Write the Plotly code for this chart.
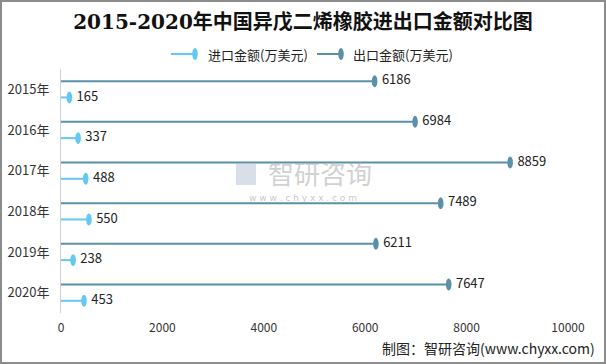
import plotly.graph_objects as go

years = ["2015年", "2016年", "2017年", "2018年", "2019年", "2020年"]
import_vals = [165, 337, 488, 550, 238, 453]
export_vals = [6186, 6984, 8859, 7489, 6211, 7647]
x_ticks = [0, 2000, 4000, 6000, 8000, 10000]

IMP_COLOR = "#63C9F2"
EXP_COLOR = "#5B90AA"
CJK = "Noto Sans CJK SC"

W, H = 606, 364
ML, MR, MT, MB = 61, 38, 69, 51
PW, PH = W - ML - MR, H - MT - MB
XMAX = 10000
OFF = 0.2  # series offset within a category band

fig = go.Figure()

def add_series(vals, sign, color):
    xs, ys = [], []
    for i, v in enumerate(vals):
        xs += [0, v, None]
        ys += [i + sign * OFF, i + sign * OFF, None]
    fig.add_trace(go.Scatter(x=xs, y=ys, mode="lines", line=dict(color=color, width=2),
                             showlegend=False, hoverinfo="skip"))
    fig.add_trace(go.Scatter(x=vals, y=[i + sign * OFF for i in range(len(vals))],
                             mode="markers+text", text=[str(v) for v in vals],
                             textposition="middle right",
                             marker=dict(size=10, color="rgba(0,0,0,0)"),
                             textfont=dict(family=CJK, size=13, color="#222"),
                             showlegend=False, hoverinfo="skip"))
    dx = 2.8 * XMAX / PW
    dy = 6.0 / (PH / len(vals))
    for i, v in enumerate(vals):
        yc = i + sign * OFF
        fig.add_shape(type="circle", xref="x", yref="y",
                      x0=v - dx, x1=v + dx, y0=yc - dy, y1=yc + dy,
                      fillcolor=color, line=dict(width=0), layer="above")

add_series(export_vals, -1, EXP_COLOR)
add_series(import_vals, +1, IMP_COLOR)

def px_x(p):
    return (p - ML) / PW

def px_y(p):
    return (H - MB - p) / PH

# custom legend
legend_items = [("进口金额(万美元)", IMP_COLOR, 171, 195, 206),
                ("出口金额(万美元)", EXP_COLOR, 317, 341, 351)]
ly = 54
for name, color, lx0, lx1, tx in legend_items:
    fig.add_shape(type="line", xref="paper", yref="paper",
                  x0=px_x(lx0), x1=px_x(lx1), y0=px_y(ly), y1=px_y(ly),
                  line=dict(color=color, width=2))
    fig.add_shape(type="circle", xref="paper", yref="paper",
                  x0=px_x(lx1 - 2.8), x1=px_x(lx1 + 2.8), y0=px_y(ly + 6), y1=px_y(ly - 6),
                  fillcolor=color, line=dict(width=0))
    fig.add_annotation(text=name, xref="paper", yref="paper", x=px_x(tx), y=px_y(ly),
                       xanchor="left", yanchor="middle", showarrow=False,
                       font=dict(family=CJK, size=13, color="#222"))

# watermark
fig.add_annotation(text="智研咨询", xref="paper", yref="paper", x=px_x(320), y=px_y(172),
                   xanchor="center", yanchor="middle", showarrow=False,
                   font=dict(family=CJK, size=26, color="rgba(170,170,170,0.55)"))
fig.add_annotation(text="w w w . c h y x x . c o m", xref="paper", yref="paper",
                   x=px_x(303), y=px_y(198), xanchor="center", yanchor="middle", showarrow=False,
                   font=dict(family="DejaVu Sans", size=9, color="rgba(150,150,150,0.55)"))
fig.add_shape(type="rect", xref="paper", yref="paper",
              x0=px_x(236), x1=px_x(256), y0=px_y(185), y1=px_y(163),
              fillcolor="rgba(170,185,205,0.45)", line=dict(width=0))

# source
fig.add_annotation(text="制图：智研咨询(www.chyxx.com)", xref="paper", yref="paper",
                   x=px_x(597), y=px_y(348), xanchor="right", yanchor="middle", showarrow=False,
                   font=dict(family=CJK, size=14, color="#222"))

# border
fig.add_shape(type="rect", xref="paper", yref="paper",
              x0=px_x(1), x1=px_x(W - 1), y0=px_y(1), y1=px_y(H - 1),
              line=dict(color="#8c8c8c", width=2), fillcolor="rgba(0,0,0,0)")

fig.update_layout(
    width=W, height=H,
    margin=dict(l=ML, r=MR, t=MT, b=MB, autoexpand=False),
    paper_bgcolor="white", plot_bgcolor="white",
    title=dict(text="<b>2015-2020年中国异戊二烯橡胶进出口金额对比图</b>",
               x=0.5, xanchor="center", y=1 - 22 / H, yanchor="middle",
               font=dict(family="DejaVu Serif, " + CJK, size=20, color="#111")),
    xaxis=dict(range=[0, XMAX], tickvals=x_ticks, ticktext=[str(t) for t in x_ticks],
               showgrid=False, zeroline=False, showline=False, automargin=False,
               ticks="outside", ticklen=4, tickcolor="rgba(0,0,0,0)",
               tickfont=dict(family=CJK, size=12, color="#333")),
    yaxis=dict(range=[len(years) - 0.5, -0.5], tickvals=list(range(len(years))),
               ticktext=years, showgrid=False, zeroline=False, automargin=False,
               showline=True, linecolor="#d0d0d0", linewidth=1,
               ticks="outside", ticklen=8, tickcolor="rgba(0,0,0,0)",
               tickfont=dict(family=CJK, size=13, color="#333")),
)

fig.write_html("out.html")
